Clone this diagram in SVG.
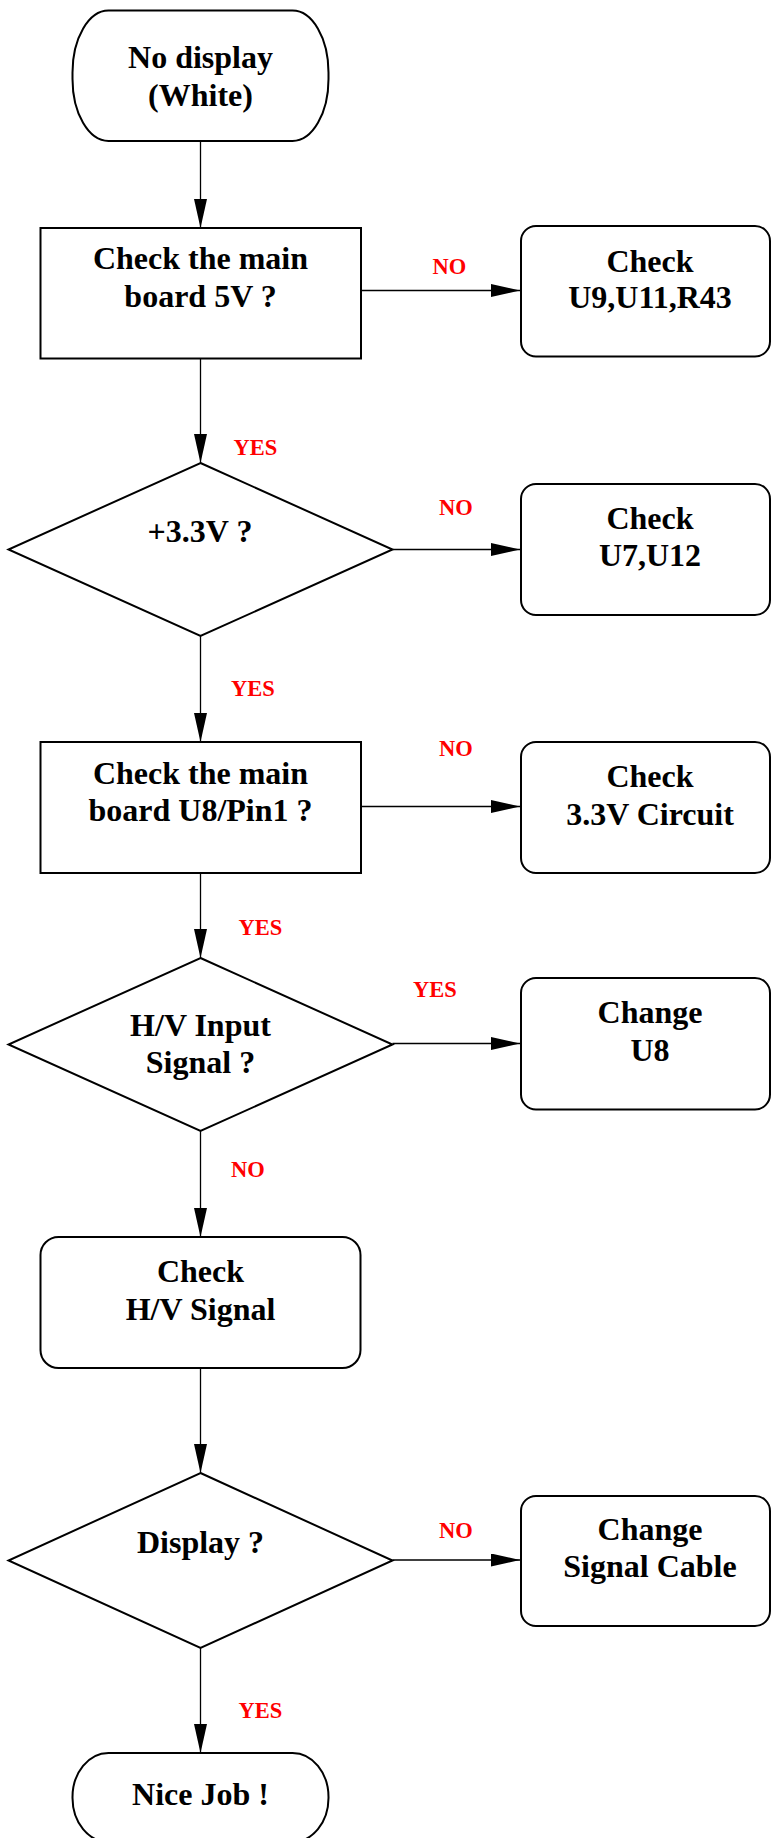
<svg xmlns="http://www.w3.org/2000/svg" width="771" height="1838" viewBox="0 0 771 1838">
<style>
.s{fill:#fff;stroke:#000;stroke-width:2}
.t{font-family:"Liberation Serif","Times New Roman",serif;font-weight:bold;font-size:32px;fill:#000;text-anchor:middle}
.l{font-family:"Liberation Serif","Times New Roman",serif;font-weight:bold;font-size:22.5px;fill:#ff0000}
.c{stroke:#000;stroke-width:1.3;fill:none;marker-end:url(#ah)}
</style>
<defs>
<marker id="ah" markerUnits="userSpaceOnUse" markerWidth="30" markerHeight="13" refX="29" refY="6.5" orient="auto">
<path d="M0,0 L29,6.5 L0,13 z" fill="#000"/>
</marker>
</defs>
<rect width="771" height="1838" fill="#fff"/>
<g id="connectors">
<line class="c" x1="200.5" y1="141" x2="200.5" y2="228"/>
<line class="c" x1="361" y1="290.5" x2="520" y2="290.5"/>
<line class="c" x1="200.5" y1="358.5" x2="200.5" y2="463"/>
<line class="c" x1="392.5" y1="549.5" x2="520" y2="549.5"/>
<line class="c" x1="200.5" y1="636" x2="200.5" y2="742"/>
<line class="c" x1="361" y1="806.5" x2="520" y2="806.5"/>
<line class="c" x1="200.5" y1="873" x2="200.5" y2="958"/>
<line class="c" x1="392.5" y1="1043.5" x2="520" y2="1043.5"/>
<line class="c" x1="200.5" y1="1131" x2="200.5" y2="1237"/>
<line class="c" x1="200.5" y1="1368" x2="200.5" y2="1473"/>
<line class="c" x1="392.5" y1="1560" x2="520" y2="1560"/>
<line class="c" x1="200.5" y1="1648" x2="200.5" y2="1753"/>
<text class="l" x="432.5" y="274">NO</text>
<text class="l" x="233.5" y="455">YES</text>
<text class="l" x="439" y="515">NO</text>
<text class="l" x="231" y="695.5">YES</text>
<text class="l" x="439" y="756">NO</text>
<text class="l" x="238.5" y="935">YES</text>
<text class="l" x="413" y="996.5">YES</text>
<text class="l" x="231" y="1176.5">NO</text>
<text class="l" x="439" y="1537.5">NO</text>
<text class="l" x="238.5" y="1718">YES</text>
</g>
<g id="start">
<rect class="s" x="72.5" y="10.5" width="256" height="130.5" rx="36" ry="62"/>
<text class="t" x="200.5" y="68">No display</text>
<text class="t" x="200.5" y="105.5">(White)</text>
</g>
<g id="check5v">
<rect class="s" x="40.5" y="228" width="320.5" height="130.5"/>
<text class="t" x="200.5" y="269">Check the main</text>
<text class="t" x="200.5" y="307">board 5V ?</text>
</g>
<g id="checkU9">
<rect class="s" x="521" y="226" width="249" height="130.5" rx="15" ry="15"/>
<text class="t" x="650" y="271.5">Check</text>
<text class="t" x="650" y="308">U9,U11,R43</text>
</g>
<g id="d33">
<polygon class="s" points="200.5,463 392.5,549.5 200.5,636 8.5,549.5"/>
<text class="t" x="200" y="542">+3.3V ?</text>
</g>
<g id="checkU7">
<rect class="s" x="521" y="484" width="249" height="131" rx="15" ry="15"/>
<text class="t" x="650" y="529">Check</text>
<text class="t" x="650" y="566">U7,U12</text>
</g>
<g id="checkU8pin">
<rect class="s" x="40.5" y="742" width="320.5" height="131"/>
<text class="t" x="200.5" y="783.5">Check the main</text>
<text class="t" x="200.5" y="820.5">board U8/Pin1 ?</text>
</g>
<g id="check33circuit">
<rect class="s" x="521" y="742" width="249" height="131" rx="15" ry="15"/>
<text class="t" x="650" y="787">Check</text>
<text class="t" x="650" y="825">3.3V Circuit</text>
</g>
<g id="dhv">
<polygon class="s" points="200.5,958 392.5,1044.5 200.5,1131 8.5,1044.5"/>
<text class="t" x="200.5" y="1036">H/V Input</text>
<text class="t" x="200.5" y="1073">Signal ?</text>
</g>
<g id="changeU8">
<rect class="s" x="521" y="978" width="249" height="131.5" rx="15" ry="15"/>
<text class="t" x="650" y="1023">Change</text>
<text class="t" x="650" y="1060.5">U8</text>
</g>
<g id="checkHV">
<rect class="s" x="40.5" y="1237" width="320" height="131" rx="18" ry="18"/>
<text class="t" x="200.5" y="1281.5">Check</text>
<text class="t" x="200.5" y="1319.5">H/V Signal</text>
</g>
<g id="ddisplay">
<polygon class="s" points="200.5,1473 392.5,1560.5 200.5,1648 8.5,1560.5"/>
<text class="t" x="200.5" y="1552.5">Display ?</text>
</g>
<g id="changeCable">
<rect class="s" x="521" y="1496" width="249" height="130" rx="15" ry="15"/>
<text class="t" x="650" y="1540">Change</text>
<text class="t" x="650" y="1576.5">Signal Cable</text>
</g>
<g id="end">
<rect class="s" x="72.5" y="1753" width="256" height="89" rx="36" ry="44"/>
<text class="t" x="200.5" y="1805">Nice Job !</text>
</g>
</svg>
